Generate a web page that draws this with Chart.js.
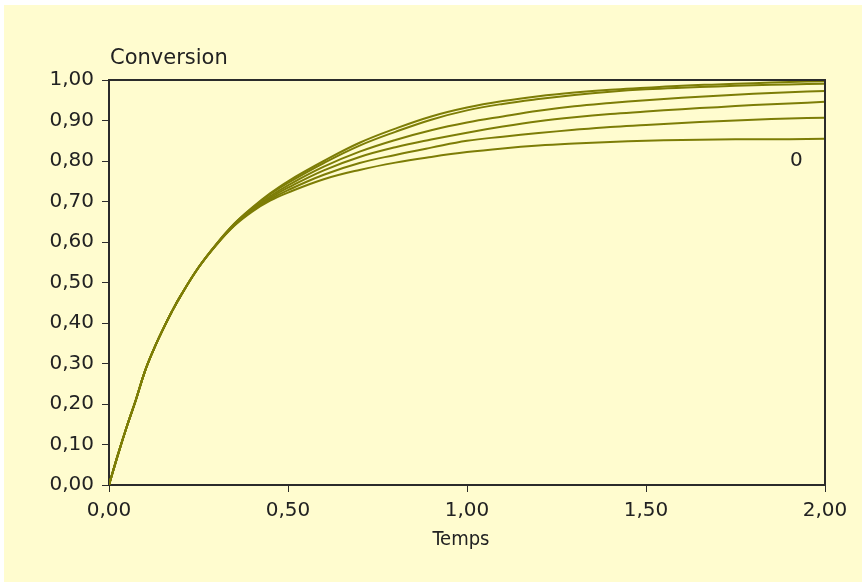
<!DOCTYPE html>
<html>
<head>
<meta charset="utf-8">
<script src="https://cdn.jsdelivr.net/npm/chart.js@4"></script>
<style>
    body { margin: 0; background: #ffffff; }
    #wrap { position: absolute; left: 4px; top: 5px; width: 858px; height: 577px; background: #fffccf; }
</style>
</head>
<body>
<div id="wrap"><canvas id="convChart" width="858" height="577"></canvas></div>
<script>
// -------------------------------
// DATA
// -------------------------------
const temps = [0, 0.025, 0.05, 0.075, 0.1, 0.125, 0.15, 0.175, 0.2, 0.25,
               0.3, 0.35, 0.4, 0.45, 0.5, 0.6, 0.7, 0.8, 0.9, 1.0,
               1.1, 1.2, 1.3, 1.4, 1.5, 1.6, 1.7, 1.8, 1.9, 2.0];

const curveA = [0, .075, .145, .21, .28, .335, .383, .427, .467, .537,
                .595, .645, .685, .72, .75, .80, .845, .88, .91, .932,
                .948, .96, .969, .976, .981, .986, .989, .992, .995, .997];
const curveB = [0, .075, .145, .21, .28, .335, .383, .427, .467, .537,
                .595, .645, .684, .718, .746, .795, .838, .872, .902, .925,
                .941, .953, .963, .971, .977, .981, .984, .987, .989, .991];
const curveC = [0, .075, .145, .21, .28, .335, .383, .427, .467, .537,
                .594, .643, .681, .713, .74, .786, .823, .852, .876, .895,
                .91, .924, .935, .943, .95, .956, .961, .966, .97, .973];
const curveD = [0, .075, .145, .21, .28, .335, .383, .427, .467, .537,
                .594, .642, .679, .709, .734, .777, .81, .834, .853, .87,
                .885, .898, .908, .916, .922, .928, .933, .938, .942, .946];
const curveE = [0, .075, .145, .21, .28, .335, .383, .427, .467, .537,
                .593, .641, .677, .705, .728, .766, .795, .815, .833, .85,
                .86, .869, .877, .884, .889, .894, .898, .902, .905, .907];
const curveF = [0, .075, .145, .21, .28, .335, .383, .427, .467, .537,
                .593, .64, .675, .702, .722, .755, .778, .796, .81, .822,
                .831, .838, .843, .847, .85, .852, .853, .854, .854, .855];

const curves = [curveA, curveB, curveC, curveD, curveE, curveF];

// label "0" sits next to the lowest curve
const label0 = { t: 1.92, y: 0.80, text: "0" };

const LINE_COLOR = "#7d7d06";
const AXIS_COLOR = "#2b2b2b";
const FONT = "DejaVu Sans";

function fmt(v) {
    return Number(v).toFixed(2).replace(".", ",");
}

// frame + free texts
const framePlugin = {
    id: "frame",
    afterDraw(chart) {
        const ctx = chart.ctx;
        const a = chart.chartArea;
        const xs = chart.scales.x;
        const ys = chart.scales.y;
        ctx.save();
        ctx.strokeStyle = AXIS_COLOR;
        ctx.lineWidth = 2;
        ctx.beginPath();
        ctx.moveTo(a.left, a.top);
        ctx.lineTo(a.right, a.top);
        ctx.lineTo(a.right, a.bottom);
        ctx.stroke();

        ctx.fillStyle = "#222";
        ctx.textBaseline = "middle";
        ctx.textAlign = "left";
        ctx.font = "21px '" + FONT + "'";
        ctx.fillText("Conversion", a.left + 1, a.top - 21);

        ctx.textAlign = "center";
        ctx.font = "20px 'DejaVu Sans Condensed', '" + FONT + "'";
        ctx.fillText("Temps", (a.left + a.right) / 2 - 6, a.bottom + 55);

        ctx.font = "20px '" + FONT + "'";
        ctx.fillText(label0.text, xs.getPixelForValue(label0.t), ys.getPixelForValue(label0.y));
        ctx.restore();
    }
};

const ctx = document.getElementById("convChart").getContext("2d");

new Chart(ctx, {
    type: "line",
    data: {
        labels: temps,
        datasets: curves.map(c => ({
            data: c.map((v, i) => ({ x: temps[i], y: v })),
            borderColor: LINE_COLOR,
            borderWidth: 2,
            pointRadius: 0,
            tension: 0.4,
            fill: false
        }))
    },
    options: {
        responsive: false,
        animation: false,
        layout: { padding: { top: 75, right: 37, left: 0, bottom: 0 } },
        plugins: {
            legend: { display: false },
            tooltip: { enabled: false }
        },
        scales: {
            x: {
                type: "linear",
                min: 0,
                max: 2,
                afterFit: s => { s.height = 97; },
                border: { display: true, color: AXIS_COLOR, width: 2 },
                grid: { drawOnChartArea: false, tickLength: 7, color: AXIS_COLOR, tickWidth: 1 },
                ticks: {
                    stepSize: 0.5,
                    color: "#222",
                    font: { family: FONT, size: 20 },
                    padding: 7,
                    maxRotation: 0,
                    callback: v => fmt(v)
                }
            },
            y: {
                min: 0,
                max: 1,
                afterFit: s => { s.width = 105; },
                border: { display: true, color: AXIS_COLOR, width: 2 },
                grid: { drawOnChartArea: false, tickLength: 7, color: AXIS_COLOR, tickWidth: 1 },
                ticks: {
                    stepSize: 0.1,
                    color: "#222",
                    font: { family: FONT, size: 20 },
                    padding: 8,
                    callback: v => fmt(v)
                }
            }
        }
    },
    plugins: [framePlugin]
});
</script>
</body>
</html>
